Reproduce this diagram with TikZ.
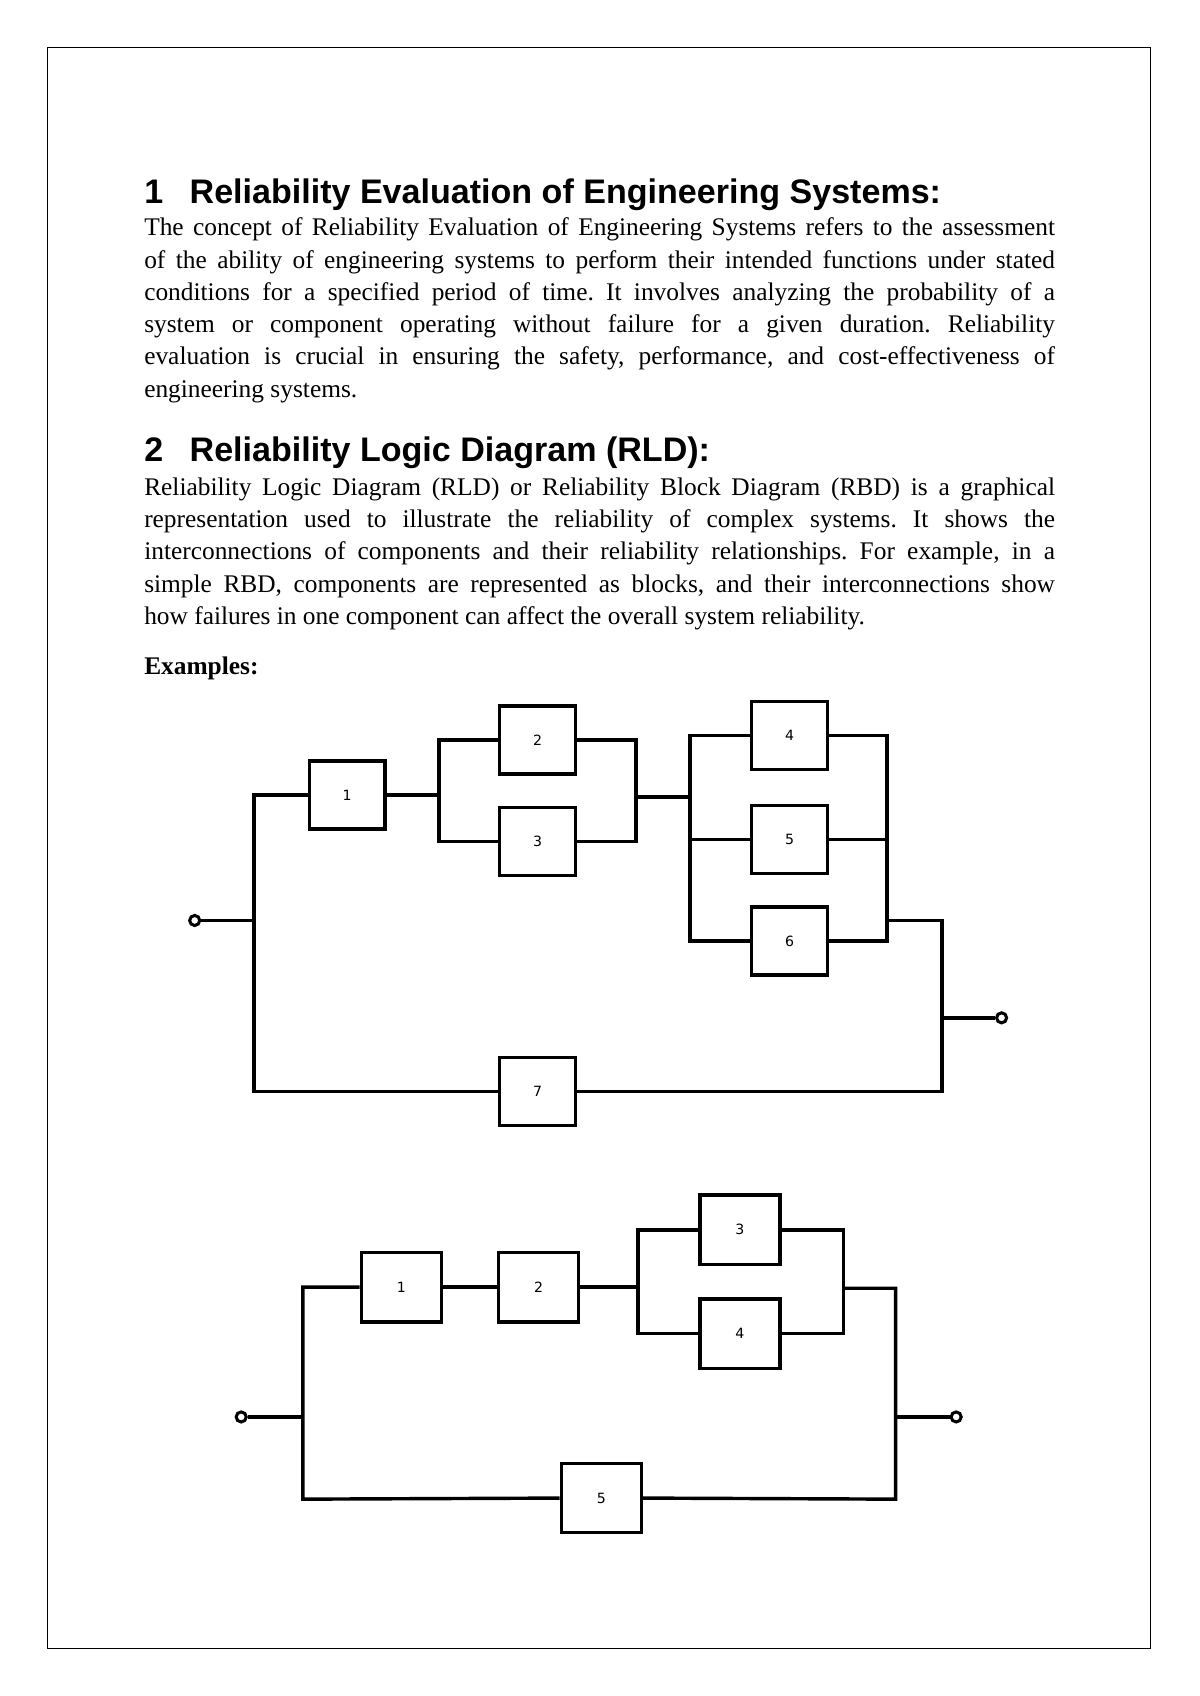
\documentclass[tikz,border=0pt]{standalone}
\usepackage{fontspec}
\setmainfont{Liberation Serif}
\newfontfamily\headfont{Liberation Sans}
\newfontfamily\lblfont{DejaVu Sans}
\begin{document}
\frenchspacing
\begin{tikzpicture}[x=0.5367pt,y=-0.5367pt,
 blk/.style={draw, line width=1.7pt, minimum width=37.6pt, minimum height=33.8pt, inner sep=0pt, fill=white, font=\lblfont\fontsize{7}{8}\selectfont},
 blkb/.style={blk, minimum width=39.7pt, minimum height=34.4pt},
 wire/.style={line width=1.7pt, line join=miter},
 term/.style={circle, draw, line width=1.5pt, minimum size=5pt, inner sep=0pt, fill=white},
 headnum/.style={anchor=base west, inner sep=0pt, font=\headfont\bfseries\fontsize{16.9}{20}\selectfont},
 para/.style={anchor=base west, inner sep=0pt, text width=451.9pt, align=justify, font=\fontsize{12.6}{16}\selectfont\frenchspacing}]
\useasboundingbox (0,0) rectangle (1109,1568);
\draw[line width=0.6pt] (44,44) rectangle (1064,1524);

% Section 1
\node[headnum] (h1n) at (133,188) {1};
\node[headnum] (h1) at (175,188) {Reliability Evaluation of Engineering Systems:};
\node[para] (p1) at (133,218) {The concept of Reliability Evaluation of Engineering Systems refers to the assessment\linebreak
of the ability of engineering systems to perform their intended functions under stated\linebreak
conditions for a specified period of time. It involves analyzing the probability of a\linebreak
system or component operating without failure for a given duration. Reliability\linebreak
evaluation is crucial in ensuring the safety, performance, and cost-effectiveness of\linebreak
engineering systems.};

% Section 2
\node[headnum] (h2n) at (133,427) {2};
\node[headnum] (h2) at (175,427) {Reliability Logic Diagram (RLD):};
\node[para] (p2) at (133,458) {Reliability Logic Diagram (RLD) or Reliability Block Diagram (RBD) is a graphical\linebreak
representation used to illustrate the reliability of complex systems. It shows the\linebreak
interconnections of components and their reliability relationships. For example, in a\linebreak
simple RBD, components are represented as blocks, and their interconnections show\linebreak
how failures in one component can affect the overall system reliability.};
\node[anchor=base west, inner sep=0pt, font=\fontsize{12.6}{16}\selectfont\bfseries] (ex) at (133,624) {Examples:};

% ---------- Diagram 1 ----------
\node[term] (ain) at (180,851) {};
\node[term] (aout) at (926,941) {};
\node[blk] (a1) at (321,735) {1};
\node[blk] (a2) at (497,684) {2};
\node[blk] (a3) at (497,778) {3};
\node[blk] (a4) at (730,680) {4};
\node[blk] (a5) at (730,776) {5};
\node[blk] (a6) at (730,870) {6};
\node[blk] (a7) at (497,1009) {7};
\coordinate (aL) at (235,851);
\coordinate (aLt) at (235,735);
\coordinate (aLb) at (235,1009);
\coordinate (aP1) at (406,735);
\coordinate (aP1t) at (406,684);
\coordinate (aP1b) at (406,778);
\coordinate (aQ1t) at (588,684);
\coordinate (aQ1b) at (588,778);
\coordinate (aQ1) at (588,737);
\coordinate (aP2) at (638,737);
\coordinate (aP2t) at (638,680);
\coordinate (aP2m) at (638,776);
\coordinate (aP2b) at (638,870);
\coordinate (aQ2t) at (820,680);
\coordinate (aQ2m) at (820,776);
\coordinate (aQ2b) at (820,870);
\coordinate (aQ2) at (820,851);
\coordinate (aR) at (871,851);
\coordinate (aRo) at (871,941);
\coordinate (aRb) at (871,1009);

\draw[wire] (ain) -- (aL);
\draw[wire] (a1.west) -- (aLt) -- (aLb) -- (a7.west);
\draw[wire] (a1.east) -- (aP1);
\draw[wire] (a2.west) -- (aP1t) -- (aP1b) -- (a3.west);
\draw[wire] (a2.east) -- (aQ1t) -- (aQ1b) -- (a3.east);
\draw[wire] (aQ1) -- (aP2);
\draw[wire] (a4.west) -- (aP2t) -- (aP2b) -- (a6.west);
\draw[wire] (aP2m) -- (a5.west);
\draw[wire] (a4.east) -- (aQ2t) -- (aQ2b) -- (a6.east);
\draw[wire] (a5.east) -- (aQ2m);
\draw[wire] (aQ2) -- (aR) -- (aRb) -- (a7.east);
\draw[wire] (aRo) -- (aout);

% ---------- Diagram 2 ----------
\node[term] (bin) at (223,1310) {};
\node[term] (bout) at (884,1310) {};
\node[blkb] (b1) at (371,1190) {1};
\node[blkb] (b2) at (498,1190) {2};
\node[blkb] (b3) at (684,1137) {3};
\node[blkb] (b4) at (684,1233) {4};
\node[blkb] (b5) at (556,1385) {5};
\coordinate (bL) at (280,1310);
\coordinate (bLt) at (280,1190);
\coordinate (bLb) at (280,1386);
\coordinate (bP) at (590,1190);
\coordinate (bPt) at (590,1137);
\coordinate (bPb) at (590,1233);
\coordinate (bQt) at (780,1137);
\coordinate (bQb) at (780,1233);
\coordinate (bQ) at (780,1191);
\coordinate (bR) at (828,1191);
\coordinate (bRo) at (828,1310);
\coordinate (bRb) at (828,1386);

\draw[wire] (bin) -- (bL);
\draw[wire] (b1.west) -- (bLt) -- (bLb) -- (b5.west);
\draw[wire] (b1) -- (b2);
\draw[wire] (b2.east) -- (bP);
\draw[wire] (b3.west) -- (bPt) -- (bPb) -- (b4.west);
\draw[wire] (b3.east) -- (bQt) -- (bQb) -- (b4.east);
\draw[wire] (bQ) -- (bR) -- (bRb) -- (b5.east);
\draw[wire] (bRo) -- (bout);
\end{tikzpicture}
\end{document}
